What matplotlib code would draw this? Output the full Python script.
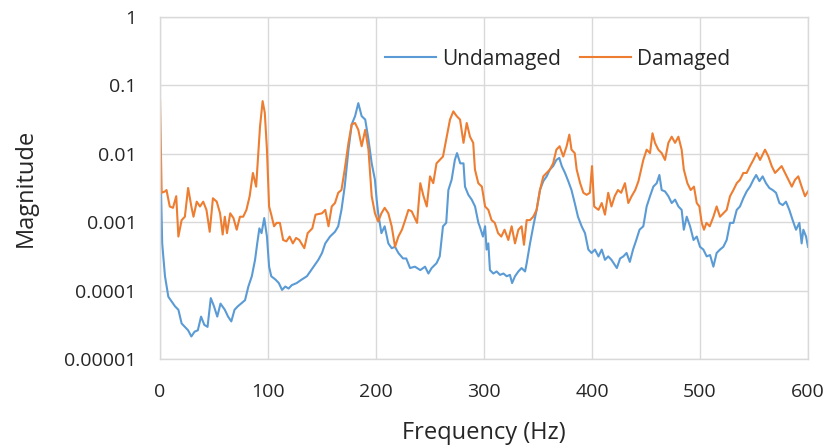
import numpy as np
import matplotlib
matplotlib.use("Agg")
from matplotlib import pyplot as plt

# magnitude readings, stored as log10(magnitude)
undamaged_freq = [0, 1, 2, 4.6, 7.7, 10.8, 13.9, 17, 20, 23, 26, 29, 32, 35, 38, 41, 44, 47, 50, 53,
                  56, 60, 63, 66, 69, 72, 75, 78.7, 81.8, 85, 88, 90, 92, 94, 96.5, 99, 101, 103, 107, 110,
                  113, 116, 119, 122, 126.5, 131, 136, 140, 143.5, 146.6, 150, 153, 157.4, 162, 165, 168,
                  171, 174.5, 177.5, 180.6, 183.6, 186.7, 190, 193, 196, 199, 200.6, 202, 205, 208, 211.4,
                  214.5, 217.6, 220.7, 225, 228, 231.5, 236, 241, 245.4, 248.5, 251.5, 256, 259, 262, 265,
                  267, 270, 273, 275, 278, 281, 282.4, 285.5, 288.6, 291.7, 294.8, 296, 299, 301, 302.4,
                  304, 305.5, 308.6, 311.7, 314.8, 318, 321, 324, 326, 328.7, 331.8, 334.8, 338, 339.5,
                  342.6, 345.6, 348.7, 351.8, 354.9, 358, 361, 364, 367, 369.7, 372, 375, 378, 381, 384,
                  387, 390.4, 393.5, 396.6, 399.6, 402.7, 406, 409, 412, 415, 418, 423, 426, 429, 432, 435,
                  438, 441, 444, 447.5, 450.6, 453.7, 456.8, 459.9, 462.4, 464.5, 467.6, 470.7, 473.8,
                  476.9, 480, 483, 485, 487.7, 490.8, 494, 497, 500, 503.1, 506.2, 509.3, 512.4, 515.4,
                  518.5, 521.6, 524.7, 527.8, 530.9, 534, 537, 540.1, 543.2, 546.3, 549.4, 552, 555, 558,
                  561.1, 564.2, 567.3, 570.4, 573.5, 576.6, 579.6, 582.7, 585.8, 588.9, 592, 594.1, 595.7,
                  598.2, 600]
undamaged_log = [-1.84, -2.57, -3.31, -3.79, -4.09, -4.16, -4.23, -4.28, -4.48, -4.53, -4.58, -4.67, -4.60,
                 -4.58, -4.38, -4.50, -4.53, -4.11, -4.23, -4.38, -4.19, -4.28, -4.38, -4.45, -4.28, -4.23,
                 -4.19, -4.14, -3.94, -3.79, -3.55, -3.31, -3.09, -3.16, -2.94, -3.21, -3.65, -3.79, -3.84,
                 -3.89, -3.99, -3.94, -3.97, -3.92, -3.89, -3.84, -3.79, -3.70, -3.62, -3.55, -3.45, -3.31,
                 -3.21, -3.14, -3.06, -2.82, -2.48, -1.94, -1.57, -1.45, -1.26, -1.45, -1.50, -1.79, -2.14,
                 -2.38, -2.67, -2.87, -3.16, -3.06, -3.31, -3.38, -3.36, -3.45, -3.53, -3.53, -3.67, -3.65,
                 -3.70, -3.65, -3.75, -3.67, -3.60, -3.50, -3.06, -3.01, -2.53, -2.38, -2.09, -1.99, -2.14,
                 -2.14, -2.48, -2.60, -2.67, -2.77, -3.01, -3.06, -3.21, -3.06, -3.40, -3.31, -3.70, -3.75,
                 -3.72, -3.77, -3.75, -3.79, -3.77, -3.89, -3.79, -3.72, -3.67, -3.72, -3.60, -3.31, -3.06,
                 -2.82, -2.53, -2.40, -2.33, -2.23, -2.18, -2.09, -2.06, -2.18, -2.28, -2.40, -2.53, -2.72,
                 -2.92, -3.06, -3.16, -3.40, -3.45, -3.40, -3.50, -3.40, -3.55, -3.50, -3.55, -3.67, -3.53,
                 -3.50, -3.45, -3.58, -3.40, -3.26, -3.11, -3.06, -2.77, -2.62, -2.48, -2.43, -2.31, -2.53,
                 -2.55, -2.62, -2.72, -2.67, -2.77, -2.82, -3.11, -2.92, -3.06, -3.26, -3.21, -3.36, -3.40,
                 -3.50, -3.48, -3.65, -3.45, -3.40, -3.36, -3.26, -3.01, -3.01, -2.82, -2.77, -2.65, -2.55,
                 -2.48, -2.38, -2.31, -2.40, -2.33, -2.43, -2.50, -2.53, -2.57, -2.72, -2.75, -2.70, -2.82,
                 -2.97, -3.11, -3.01, -3.31, -3.11, -3.21, -3.36]

damaged_freq = [0, 1.5, 4.6, 6, 9, 12, 15, 17, 20, 23, 26, 29, 31, 34, 37, 40, 43, 46, 49, 52.5, 55.6,
                58, 60, 62, 65, 68, 71, 74, 77, 80, 83, 86, 89, 91, 92.6, 95, 97, 99, 101, 103, 105.6, 108,
                111, 114, 117, 120, 123, 126, 129, 133.6, 136.7, 141, 144, 150, 153, 156, 159, 162, 165,
                168, 171, 174.5, 177.5, 180.6, 183.6, 186.7, 190, 193, 196, 199, 202, 205, 208, 211.4,
                214.5, 217.6, 220.7, 224, 227, 230, 233, 238, 241, 244, 247, 250, 253, 256, 259, 262,
                265.5, 268.5, 271.6, 274.7, 277.8, 281, 284, 287, 290, 291.6, 294.7, 298, 301, 304, 307,
                310, 313, 316, 319, 322.5, 325.6, 328.7, 331.8, 334.8, 337, 339.5, 342.6, 345.6, 348.7,
                351.8, 354.9, 358, 361, 364, 367, 370, 373.4, 376.5, 379, 381, 384, 385.8, 389, 392, 395,
                398, 400, 402, 406, 409, 412, 415, 418, 421, 424, 427, 430.5, 433.6, 436.7, 440, 443,
                447.5, 450.6, 453.7, 456, 458.3, 461.4, 464.5, 467.6, 470.7, 473.8, 476.9, 480, 483, 485,
                488.3, 491.4, 494.4, 497, 499.4, 501.6, 503.7, 506, 509, 512.4, 515.4, 518.5, 521.6,
                524.7, 527.8, 530.9, 534, 537, 540.1, 543.2, 546.3, 549.4, 552.5, 555.6, 558.7, 560.2,
                563.3, 566.4, 569.5, 572.6, 575.6, 578.7, 581.8, 585, 588, 591, 594.1, 597.2, 600]
damaged_log = [-1.22, -2.57, -2.55, -2.53, -2.77, -2.79, -2.62, -3.21, -2.97, -2.92, -2.50, -2.77, -2.92,
               -2.70, -2.77, -2.70, -2.82, -3.14, -2.65, -2.70, -2.87, -3.18, -2.92, -3.16, -2.87, -2.94,
               -3.11, -2.92, -2.92, -2.82, -2.62, -2.28, -2.48, -1.99, -1.60, -1.23, -1.40, -1.94, -2.77,
               -2.89, -3.06, -3.01, -3.01, -3.26, -3.28, -3.21, -3.31, -3.23, -3.26, -3.38, -3.16, -3.09,
               -2.89, -2.87, -2.82, -3.06, -2.77, -2.72, -2.57, -2.53, -2.23, -1.84, -1.57, -1.55, -1.65,
               -1.89, -1.65, -1.94, -2.62, -2.87, -2.99, -2.87, -2.79, -2.87, -3.06, -3.36, -3.21, -3.11,
               -2.97, -2.82, -2.84, -3.01, -2.43, -2.62, -2.77, -2.33, -2.43, -2.14, -2.09, -2.04, -1.75,
               -1.50, -1.38, -1.45, -1.50, -1.84, -1.55, -1.75, -1.84, -2.23, -2.43, -2.48, -2.77, -2.82,
               -2.97, -3.01, -3.16, -3.21, -3.11, -3.26, -3.06, -3.31, -3.11, -3.06, -3.33, -2.97, -2.97,
               -2.92, -2.82, -2.53, -2.33, -2.28, -2.23, -2.14, -1.94, -1.89, -2.04, -1.89, -1.72, -1.94,
               -1.99, -2.23, -2.43, -2.57, -2.60, -2.57, -2.18, -2.77, -2.82, -2.72, -2.89, -2.57, -2.77,
               -2.62, -2.53, -2.57, -2.43, -2.72, -2.62, -2.53, -2.40, -2.09, -1.94, -1.99, -1.70, -1.84,
               -1.94, -1.99, -2.09, -1.84, -1.75, -1.84, -1.75, -1.94, -2.23, -2.43, -2.53, -2.48, -2.72,
               -2.77, -3.01, -3.11, -3.01, -3.06, -2.92, -2.77, -2.92, -2.87, -2.82, -2.62, -2.53, -2.43,
               -2.38, -2.28, -2.28, -2.18, -2.09, -1.99, -2.09, -1.99, -1.94, -2.04, -2.18, -2.28, -2.23,
               -2.18, -2.28, -2.38, -2.48, -2.38, -2.33, -2.48, -2.62, -2.55]

x_ticks = [0, 100, 200, 300, 400, 500, 600]
y_ticks = [0.00001, 0.0001, 0.001, 0.01, 0.1, 1]
y_tick_labels = ["0.00001", "0.0001", "0.001", "0.01", "0.1", "1"]

plt.rcParams['font.family'] = ['Open Sans', 'DejaVu Sans']
txt = '#262626'

fig = plt.figure(figsize=(8.3, 4.46), dpi=100)
ax = fig.add_axes([0.1928, 0.195, 0.7807, 0.767])

ax.plot(undamaged_freq, 10 ** np.array(undamaged_log), color='#5B9BD5', lw=1.5, label='Undamaged')
ax.plot(damaged_freq, 10 ** np.array(damaged_log), color='#ED7D31', lw=1.5, label='Damaged')

ax.set_yscale('log')
ax.set_xlim(0, 600)
ax.set_ylim(1e-5, 1)
ax.set_xticks(x_ticks)
ax.set_yticks(y_ticks)
ax.set_yticklabels(y_tick_labels)
ax.minorticks_off()
ax.tick_params(length=0, labelsize=14, colors=txt)
ax.tick_params(axis='y', pad=17)
ax.tick_params(axis='x', pad=17)
ax.grid(True, color='#d9d9d9', lw=1)
ax.set_axisbelow(True)
for s in ax.spines.values():
    s.set_color('#d9d9d9')
    s.set_linewidth(1)

ax.set_xlabel('Frequency (Hz)', fontsize=17, color=txt, labelpad=15)
ax.set_ylabel('Magnitude', fontsize=17, color=txt, labelpad=19)

ax.legend(loc='center', bbox_to_anchor=(0.614, 0.877), ncol=2, frameon=False,
          fontsize=15, handlelength=2.45, columnspacing=0.9, handletextpad=0.3,
          labelcolor=txt)

fig.savefig('out.png', dpi=100)
